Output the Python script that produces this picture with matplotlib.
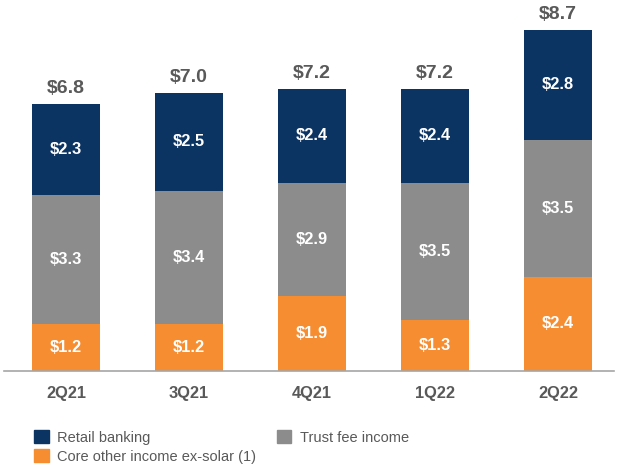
import matplotlib
matplotlib.use("Agg")
import matplotlib.pyplot as plt
from matplotlib.patches import Patch

plt.rcParams['font.family'] = ['Liberation Sans', 'DejaVu Sans']

categories = ["2Q21", "3Q21", "4Q21", "1Q22", "2Q22"]
core_other = [1.2, 1.2, 1.9, 1.3, 2.4]
trust_fee = [3.3, 3.4, 2.9, 3.5, 3.5]
retail = [2.3, 2.5, 2.4, 2.4, 2.8]
totals = [6.8, 7.0, 7.2, 7.2, 8.7]

c_orange = "#F68D30"
c_gray = "#8C8C8C"
c_navy = "#0C3463"
c_text = "#595959"

fig = plt.figure(figsize=(6.18, 4.69), dpi=100)
W, H = 618, 469
ax = fig.add_axes([4 / W, 1 - 371 / H, 610 / W, 371 / H])
ax.set_xlim(-0.504, 4.455)
ax.set_ylim(0, 9.46)

x = list(range(len(categories)))
width = 0.555
ax.bar(x, core_other, width, color=c_orange)
ax.bar(x, trust_fee, width, bottom=core_other, color=c_gray)
bottom3 = [a + b for a, b in zip(core_other, trust_fee)]
ax.bar(x, retail, width, bottom=bottom3, color=c_navy)

for i in x:
    ax.text(i, core_other[i] / 2, f"${core_other[i]:.1f}", ha='center', va='center',
            color='white', fontsize=11.8, fontweight='bold')
    ax.text(i, core_other[i] + trust_fee[i] / 2, f"${trust_fee[i]:.1f}", ha='center', va='center',
            color='white', fontsize=11.8, fontweight='bold')
    ax.text(i, bottom3[i] + retail[i] / 2, f"${retail[i]:.1f}", ha='center', va='center',
            color='white', fontsize=11.8, fontweight='bold')
    top = bottom3[i] + retail[i]
    ax.annotate(f"${totals[i]:.1f}", (i, top), xytext=(0, 5), textcoords='offset points',
                ha='center', va='bottom', color=c_text, fontsize=14, fontweight='bold')

for s in ['top', 'right', 'left']:
    ax.spines[s].set_visible(False)
ax.spines['bottom'].set_color('#A6A6A6')
ax.spines['bottom'].set_linewidth(1.2)
ax.set_yticks([])
ax.set_xticks(x)
ax.set_xticklabels(categories, fontsize=11.8, fontweight='bold', color=c_text)
ax.tick_params(axis='x', length=0, pad=11)

handles = [Patch(color=c_navy), Patch(color=c_orange), Patch(color=c_gray)]
labels = ["Retail banking", "Core other income ex-solar (1)", "Trust fee income"]
fig.legend(handles, labels, ncol=2, loc='upper left',
           bbox_to_anchor=(21 / W, 1 - 417 / H), frameon=False,
           fontsize=10.5, handlelength=1.0, handleheight=1.0,
           handletextpad=0.6, columnspacing=1.4, labelspacing=0.32,
           labelcolor=c_text)

fig.savefig("out.png", dpi=100)
